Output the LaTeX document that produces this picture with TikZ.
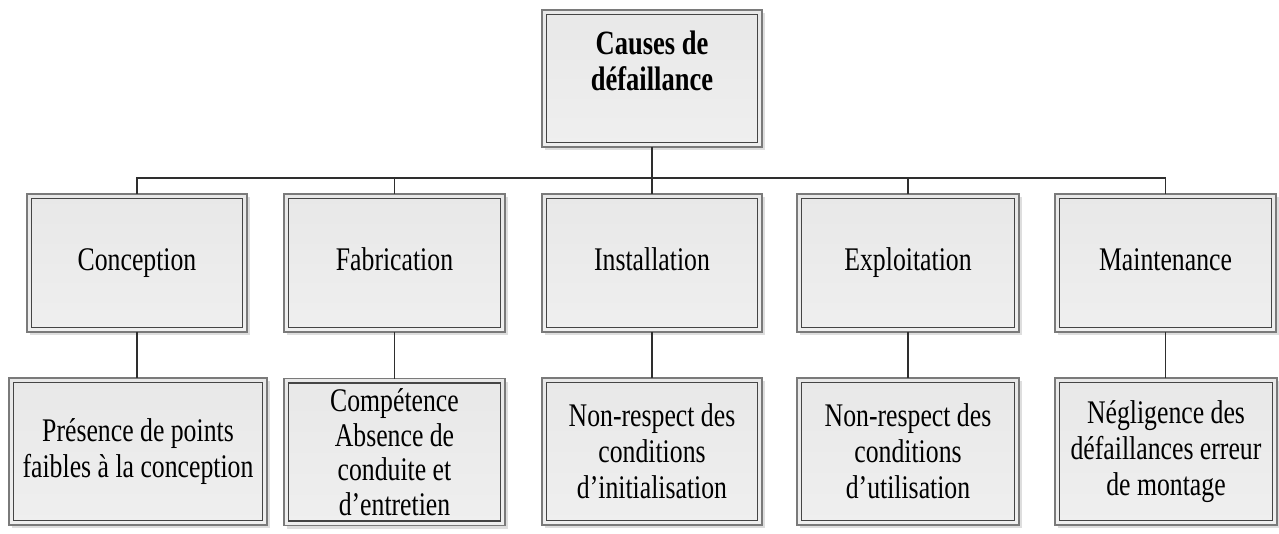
\documentclass[tikz,border=0pt]{standalone}
\usepackage{fontspec}
\setmainfont{Liberation Serif}[FakeStretch=0.78]
\usetikzlibrary{shadows}
\definecolor{frameout}{HTML}{7A7A7A}
\definecolor{framein}{HTML}{454545}
\definecolor{conncol}{HTML}{2E2E2E}
\definecolor{shadecol}{HTML}{DEDEDE}
\definecolor{ftop}{HTML}{E8E8E8}
\definecolor{fmid}{HTML}{F9F9F9}
\definecolor{fbot}{HTML}{EFEFEF}
\tikzset{
  box/.style 2 args={rectangle, draw=frameout, line width=1.1pt, outer sep=0pt, inner sep=2pt,
    align=center, top color=ftop, middle color=fmid, bottom color=fbot,
    general shadow={fill=shadecol, shadow xshift=3pt, shadow yshift=-3pt},
    minimum width=#1, minimum height=#2,
    font=\fontsize{33}{36}\selectfont, text=black,
    path picture={\draw[framein, line width=1.1pt]
      ([xshift=4.5pt,yshift=-4.5pt]path picture bounding box.north west) rectangle
      ([xshift=-4.5pt,yshift=4.5pt]path picture bounding box.south east);}},
  oneline/.style={text height=22pt, text depth=7pt},
  conn/.style={draw=conncol, line width=1.8pt}
}
\begin{document}
\begin{tikzpicture}[x=1pt,y=-1pt]
\useasboundingbox (0,0) rectangle (1279,534);
% root
\node[box={220pt}{137pt}, font=\fontsize{34}{36}\selectfont\bfseries] (root) at (652,78.5) {Causes de\\défaillance\\~};
% level 2
\node[box={220pt}{138pt}, oneline] (c2) at (137,263) {Conception};
\node[box={221pt}{138pt}, oneline] (f2) at (394.5,263) {Fabrication};
\node[box={220pt}{138pt}, oneline] (i2) at (652,263) {Installation};
\node[box={222pt}{138pt}, oneline] (e2) at (908,263) {Exploitation};
\node[box={221pt}{138pt}, oneline] (m2) at (1165.5,263) {Maintenance};
% level 3
\node[box={258pt}{147pt}] (c3) at (138,451.5) {Présence de points\\faibles à la conception};
\node[box={221pt}{147pt}, font=\fontsize{33}{34.5}\selectfont] (f3) at (394.5,452) {Compétence\\Absence de\\conduite et\\d’entretien};
\node[box={220pt}{147pt}] (i3) at (652,451.5) {Non-respect des\\conditions\\d’initialisation};
\node[box={222pt}{147pt}] (e3) at (908,451.5) {Non-respect des\\conditions\\d’utilisation};
\node[box={222pt}{147pt}] (m3) at (1166,451.5) {Négligence des\\défaillances erreur\\de montage};
% connectors
\coordinate (bar) at (652,178);
\draw[conn] (root.south) -- (bar);
\foreach \n in {c2,f2,i2,e2,m2} {\draw[conn] (bar) -| (\n.north);}
\foreach \a/\b in {c2/c3,f2/f3,i2/i3,e2/e3,m2/m3} {\draw[conn] (\a.south) -- (\a.south |- \b.north);}
\end{tikzpicture}
\end{document}
